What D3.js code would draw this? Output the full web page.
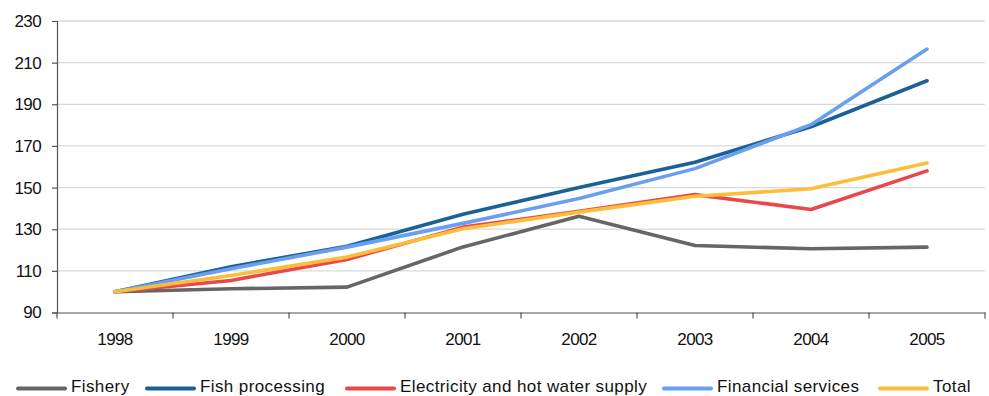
<!DOCTYPE html>
<html>
<head>
<meta charset="utf-8">
<script src="https://cdn.jsdelivr.net/npm/d3@7"></script>
<style>
  html, body { margin: 0; padding: 0; background: #fff; }
  svg { display: block; font-family: "Liberation Sans", Arial, sans-serif; }
</style>
</head>
<body>
<svg id="chart" width="989" height="396"></svg>
<script>
// Index values, 1998 = 100
const years = ["1998", "1999", "2000", "2001", "2002", "2003", "2004", "2005"];
const fishery = [100, 101.4, 102.2, 121.5, 136.2, 122.2, 120.6, 121.4];
const fishProcessing = [100, 112, 121.8, 137.2, 150, 162.2, 179.2, 201.3];
const electricity = [100, 105.4, 115.5, 131, 138.6, 146.6, 139.5, 158];
const financial = [100, 111, 121.4, 132.8, 144.7, 159.1, 180.2, 216.5];
const total = [100, 107.8, 116.6, 130.2, 138.2, 145.8, 149.4, 161.8];
const yTicks = [90, 110, 130, 150, 170, 190, 210, 230];

const seriesNames = ["Fishery", "Fish processing", "Electricity and hot water supply", "Financial services", "Total"];
const seriesValues = [fishery, fishProcessing, electricity, financial, total];
const seriesColors = ["#666666", "#1b6196", "#e9474a", "#6a9ff0", "#fcbd3a"];

const svg = d3.select("#chart");
const plotLeft = 57, plotRight = 985, plotTop = 21, plotBottom = 312.5;

const x = d3.scaleBand().domain(years).range([plotLeft, plotRight]);
const y = d3.scaleLinear().domain([90, 230]).range([plotBottom, plotTop]);

// horizontal gridlines
svg.append("g")
  .selectAll("line")
  .data(yTicks.filter(t => t > 90))
  .join("line")
  .attr("x1", plotLeft).attr("x2", plotRight)
  .attr("y1", d => y(d)).attr("y2", d => y(d))
  .attr("stroke", "#d9d9d9").attr("stroke-width", 1.3);

// y axis
const yAxis = svg.append("g")
  .attr("transform", `translate(${plotLeft},0)`)
  .call(d3.axisLeft(y).tickValues(yTicks).tickSize(5).tickPadding(11).tickFormat(d3.format("d")));
yAxis.select(".domain").attr("stroke", "#555").attr("stroke-width", 1.2);
yAxis.selectAll(".tick line").attr("stroke", "#555").attr("stroke-width", 1.2);
yAxis.selectAll(".tick text").attr("fill", "#111").style("font-size", "17px")
  .style("font-family", "'Liberation Sans', Arial, sans-serif").style("letter-spacing", "-0.6px");

// x axis with ticks at category boundaries
const xAxis = svg.append("g")
  .attr("transform", `translate(0,${plotBottom})`)
  .call(d3.axisBottom(x).tickSize(0).tickPadding(20));
xAxis.select(".domain").attr("stroke", "#555").attr("stroke-width", 1.2);
xAxis.selectAll(".tick text").attr("fill", "#111").style("font-size", "17px")
  .style("font-family", "'Liberation Sans', Arial, sans-serif").style("letter-spacing", "-0.6px");
const bounds = years.map(yr => x(yr)).concat([x(years[years.length - 1]) + x.bandwidth()]);
xAxis.append("g").selectAll("line")
  .data(bounds)
  .join("line")
  .attr("x1", d => d).attr("x2", d => d)
  .attr("y1", 0).attr("y2", 6)
  .attr("stroke", "#555").attr("stroke-width", 1.2);

// series lines
const line = d3.line()
  .x((d, i) => x(years[i]) + x.bandwidth() / 2)
  .y(d => y(d));

svg.append("g")
  .selectAll("path")
  .data(seriesValues)
  .join("path")
  .attr("d", d => line(d))
  .attr("fill", "none")
  .attr("stroke", (d, i) => seriesColors[i])
  .attr("stroke-width", 3.6)
  .attr("stroke-linejoin", "round")
  .attr("stroke-linecap", "round");

// legend
const legendX = [18, 147, 347, 664, 880];
const legendY = 388.5;
const legend = svg.append("g");
seriesNames.forEach((name, i) => {
  legend.append("line")
    .attr("x1", legendX[i]).attr("x2", legendX[i] + 47)
    .attr("y1", legendY).attr("y2", legendY)
    .attr("stroke", seriesColors[i]).attr("stroke-width", 4)
    .attr("stroke-linecap", "round");
  legend.append("text")
    .attr("x", legendX[i] + 53).attr("y", legendY + 3.8)
    .attr("fill", "#111")
    .style("font-size", "17px")
    .style("letter-spacing", "0.4px")
    .text(name);
});
</script>
</body>
</html>
